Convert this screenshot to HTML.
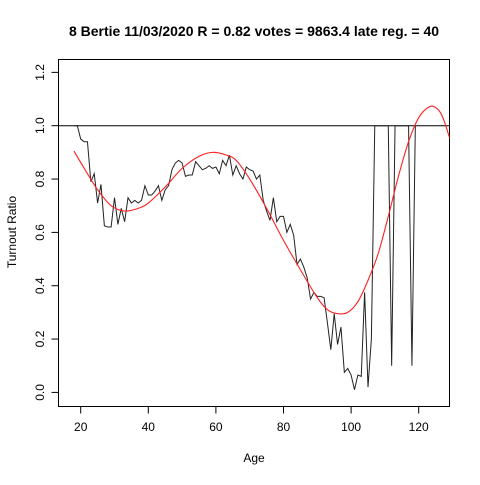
<!DOCTYPE html>
<html><head><meta charset="utf-8"><style>
body{margin:0;background:#fff}
svg{font-family:"Liberation Sans",Arial,sans-serif}
</style></head><body>
<svg id="chart" width="480" height="480">
<text x="254" y="36" text-anchor="middle" font-weight="bold" font-size="14">8 Bertie 11/03/2020 R = 0.82 votes = 9863.4 late reg. = 40</text>
<text x="254" y="462" text-anchor="middle" font-size="12">Age</text>
<text transform="translate(16,232) rotate(-90)" text-anchor="middle" font-size="12">Turnout Ratio</text>
<rect x="58.5" y="59.5" width="391" height="347" fill="none" stroke="#000"/>
<g id="axes"></g>
<g id="marks"></g>
</svg>
<script>
const ages=[18,19,20,21,22,23,24,25,26,27,28,29,30,31,32,33,34,35,36,37,38,39,40,41,42,43,44,45,46,47,48,49,50,51,52,53,54,55,56,57,58,59,60,61,62,63,64,65,66,67,68,69,70,71,72,73,74,75,76,77,78,79,80,81,82,83,84,85,86,87,88,89,90,91,92,93,94,95,96,97,98,99,100,101,102,103,104,105,106,107,108,109,110,111,112,113,114,115,116,117,118,119];
const ratio=[1,1,0.95,0.94,0.94,0.79,0.82,0.71,0.78,0.625,0.62,0.62,0.73,0.63,0.69,0.64,0.73,0.71,0.72,0.71,0.72,0.775,0.74,0.74,0.755,0.775,0.72,0.76,0.775,0.835,0.86,0.87,0.86,0.81,0.815,0.815,0.865,0.85,0.835,0.84,0.85,0.84,0.845,0.82,0.87,0.85,0.89,0.815,0.85,0.82,0.80,0.845,0.835,0.83,0.80,0.815,0.72,0.68,0.645,0.73,0.64,0.66,0.66,0.60,0.63,0.59,0.48,0.50,0.47,0.43,0.35,0.375,0.36,0.36,0.355,0.26,0.16,0.295,0.18,0.245,0.075,0.09,0.065,0.01,0.065,0.06,0.375,0.02,0.2,1,1,1,1,1,0.1,1,1,1,1,1,0.1,1];
const fitAges=[18,22,25,29,33,37,40,45,50,55,59,63,66,70,75,80,85,90,93,96,99,102,105,108,111,114,117,120,123,125,127,129.5];
const fitVals=[0.905,0.82,0.76,0.70,0.68,0.69,0.71,0.77,0.84,0.885,0.90,0.89,0.87,0.80,0.69,0.57,0.46,0.355,0.31,0.295,0.30,0.34,0.42,0.52,0.66,0.81,0.94,1.03,1.07,1.068,1.035,0.94];
const xTicks=[20,40,60,80,100,120];
const yTicks=[0,0.2,0.4,0.6,0.8,1.0,1.2];
const yLabels=["0.0","0.2","0.4","0.6","0.8","1.0","1.2"];
const X=a=>80.7+(a-20)*3.38;
const Y=v=>392.4-v*266.7;
const NS="http://www.w3.org/2000/svg";
const ax=document.getElementById('axes'),mk=document.getElementById('marks');
function el(t,a,p){const e=document.createElementNS(NS,t);for(const k in a)e.setAttribute(k,a[k]);p.appendChild(e);return e;}
xTicks.forEach(t=>{
 const l=el('line',{x1:X(t),x2:X(t),y1:406.5,y2:413.5,stroke:'#000'},ax);
 
 
 const s=el('text',{x:X(t),y:431,'text-anchor':'middle','font-size':12},ax);s.textContent=t;
 
 
});
yTicks.forEach((t,i)=>{
 const l=el('line',{x1:51.5,x2:58.5,y1:Y(t),y2:Y(t),stroke:'#000'},ax);
 
 
 const s=el('text',{transform:`translate(44,${Y(t)}) rotate(-90)`,'text-anchor':'middle','font-size':12},ax);s.textContent=yLabels[i];
 
 
});
const ref=el('line',{x1:58.5,x2:449.5,y1:Y(1),y2:Y(1),stroke:'#000'},mk);


const obs=el('polyline',{points:ages.map((a,i)=>X(a)+','+Y(ratio[i])).join(' '),fill:'none',stroke:'#222','stroke-width':1},mk);


const P=fitAges.map((a,i)=>[X(a),Y(fitVals[i])]);
let d='M'+P[0][0]+','+P[0][1];
for(let i=0;i<P.length-1;i++){const p0=P[Math.max(0,i-1)],p1=P[i],p2=P[i+1],p3=P[Math.min(P.length-1,i+2)];
 d+=` C${p1[0]+(p2[0]-p0[0])/6},${p1[1]+(p2[1]-p0[1])/6} ${p2[0]-(p3[0]-p1[0])/6},${p2[1]-(p3[1]-p1[1])/6} ${p2[0]},${p2[1]}`;}
const cp=el('clipPath',{id:'clip'},mk);el('rect',{x:58.5,y:59.5,width:391,height:347},cp);
const fit=el('path',{d:d,fill:'none',stroke:'#ff2020','stroke-width':1.1,'clip-path':'url(#clip)'},mk);


</script>
</body></html>
